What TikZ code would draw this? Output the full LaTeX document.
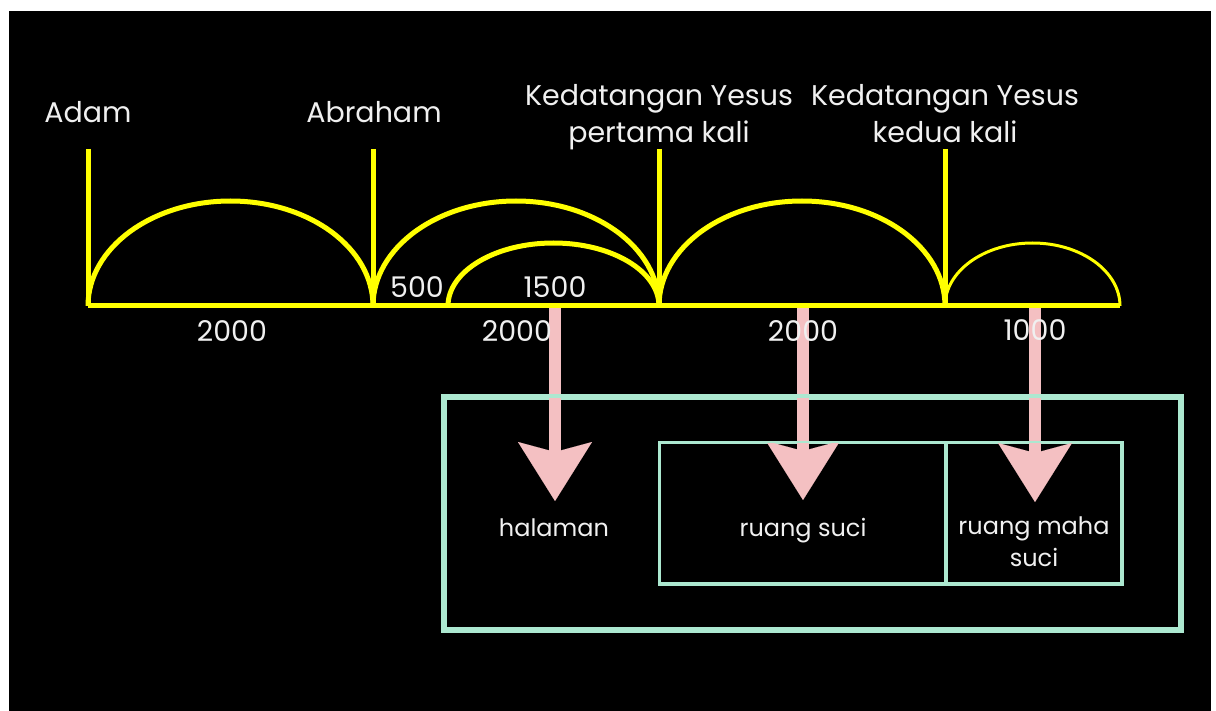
\documentclass[tikz,border=0pt]{standalone}
\usepackage{fontspec}
\setmainfont{Poppins}
\usetikzlibrary{arrows.meta}
\definecolor{tlyellow}{RGB}{255,255,0}
\definecolor{mint}{RGB}{172,232,208}
\definecolor{rosy}{RGB}{244,192,194}
\definecolor{txt}{RGB}{240,240,240}
\begin{document}
\begin{tikzpicture}[x=1pt,y=-1pt,
  bigtxt/.style={text=txt, font=\fontsize{28.5}{37}\selectfont, inner sep=0pt, anchor=base},
  multitxt/.style={text=txt, font=\fontsize{28.5}{37}\selectfont, inner sep=0pt, align=center, anchor=north},
  numtxt/.style={text=txt, font=\fontsize{28.5}{30}\selectfont, inner sep=0pt, anchor=base},
  roomtxt/.style={text=txt, font=\fontsize{24}{32}\selectfont, inner sep=0pt, anchor=base},
  roommulti/.style={text=txt, font=\fontsize{24}{32}\selectfont, inner sep=0pt, align=center, anchor=north},
  tline/.style={draw=tlyellow, line width=5pt},
  tarc/.style={draw=tlyellow, line width=5pt},
  tarcthin/.style={draw=tlyellow, line width=3pt},
  outerbox/.style={draw=mint, line width=4pt, inner sep=0pt},
  innerbox/.style={draw=mint, line width=2.5pt, inner sep=0pt},
  pinkarrow/.style={draw=rosy, line width=12pt,
    -{Stealth[length=59pt, width=74pt, inset=10pt, line width=0.01pt, fill=rosy]}},
]
% background
\fill[white] (0,0) rectangle (1216,711);
\fill[black] (9,11) rectangle (1211,711);
\useasboundingbox (0,0) rectangle (1216,711);

% timeline points
\coordinate (t0) at (88,306);
\coordinate (t1) at (373,306);
\coordinate (t2) at (659,306);
\coordinate (t3) at (945,306);
\coordinate (tend) at (1120,306);
\coordinate (v0) at (88,149);
\coordinate (v1) at (373,149);
\coordinate (v2) at (659,149);
\coordinate (v3) at (945,149);
\coordinate (m) at (448,306);

% arrow start and end points
\coordinate (s1) at (555,306);
\coordinate (s2) at (803,306);
\coordinate (s3) at (1035,306);
\coordinate (e1) at (555,501);
\coordinate (e2) at (803,500);
\coordinate (e3) at (1035,502);

% boxes
\node[outerbox, minimum width=735pt, minimum height=231pt] (outer) at (812.5,513.5) {};
\node[innerbox, minimum width=285pt, minimum height=140pt] (suci) at (802.5,513) {};
\node[innerbox, minimum width=174pt, minimum height=140pt] (maha) at (1034,513) {};

% room labels
\node[roomtxt] (hal) at (554,536) {halaman};
\node[roomtxt] (rs) at (803,536) {ruang suci};
\node[roommulti] (rms) at (1034,517) {ruang maha\\suci};

% pink arrows
\draw[pinkarrow] (s1) -- (e1);
\draw[pinkarrow] (s2) -- (e2);
\draw[pinkarrow] (s3) -- (e3);

% box outlines on top of arrows
\draw[draw=mint, line width=4pt] (outer.north west) rectangle (outer.south east);
\draw[draw=mint, line width=2.5pt] (suci.north west) rectangle (suci.south east);
\draw[draw=mint, line width=2.5pt] (maha.north west) rectangle (maha.south east);

% verticals
\draw[tline] (v0) -- (t0);
\draw[tline] (v1) -- (t1);
\draw[tline] (v2) -- (t2);
\draw[tline] (v3) -- (t3);

% arcs
\draw[tarc] (t0) arc[start angle=180, end angle=360, x radius=142.5, y radius=105];
\draw[tarc] (t1) arc[start angle=180, end angle=360, x radius=143, y radius=105];
\draw[tarc] (m) arc[start angle=180, end angle=360, x radius=105.5, y radius=63];
\draw[tarc] (t2) arc[start angle=180, end angle=360, x radius=143, y radius=105];
\draw[tarcthin] (t3) arc[start angle=180, end angle=360, x radius=87.5, y radius=63];

% baseline
\draw[tline] (t0) -- (tend);

% top labels
\node[bigtxt] (adam) at (88,123) {Adam};
\node[bigtxt] (abr) at (374,123) {Abraham};
\node[multitxt] (k1) at (659,84) {Kedatangan Yesus\\pertama kali};
\node[multitxt] (k2) at (945,84) {Kedatangan Yesus\\kedua kali};

% numbers
\node[numtxt] (n500) at (417,298) {500};
\node[numtxt] (n1500) at (555,298) {1500};
\node[numtxt] (na) at (232,342) {2000};
\node[numtxt] (nb) at (517,342) {2000};
\node[numtxt] (nc) at (803,342) {2000};
\node[numtxt] (nd) at (1035,341) {1000};
\end{tikzpicture}
\end{document}
